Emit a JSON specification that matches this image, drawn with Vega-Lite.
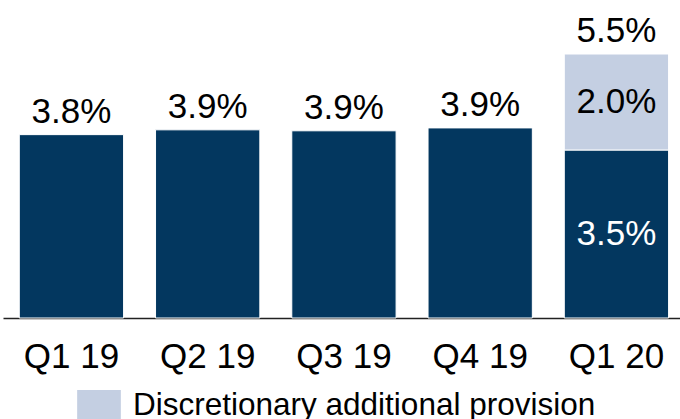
{
  "$schema": "https://vega.github.io/schema/vega-lite/v6.json",
  "autosize": {"type": "none"},
  "width": 677,
  "height": 318,
  "padding": {"left": 3, "top": 0, "right": 0, "bottom": 101},
  "background": "white",
  "config": {"view": {"stroke": null}, "font": "Liberation Sans"},
  "datasets": {
    "segments": [
      {"quarter": "Q1 19", "segment": "Base provision", "ord": 1, "value": 3.82, "label": ""},
      {"quarter": "Q2 19", "segment": "Base provision", "ord": 1, "value": 3.92, "label": ""},
      {"quarter": "Q3 19", "segment": "Base provision", "ord": 1, "value": 3.9, "label": ""},
      {"quarter": "Q4 19", "segment": "Base provision", "ord": 1, "value": 3.96, "label": ""},
      {"quarter": "Q1 20", "segment": "Base provision", "ord": 1, "value": 3.5, "label": "3.5%"},
      {"quarter": "Q1 20", "segment": "Discretionary additional provision", "ord": 2, "value": 2.0, "label": "2.0%"}
    ],
    "totals": [
      {"quarter": "Q1 19", "total": 3.82, "label": "3.8%"},
      {"quarter": "Q2 19", "total": 3.92, "label": "3.9%"},
      {"quarter": "Q3 19", "total": 3.9, "label": "3.9%"},
      {"quarter": "Q4 19", "total": 3.96, "label": "3.9%"},
      {"quarter": "Q1 20", "total": 5.5, "label": "5.5%"}
    ]
  },
  "encoding": {
    "x": {
      "field": "quarter",
      "type": "nominal",
      "sort": ["Q1 19", "Q2 19", "Q3 19", "Q4 19", "Q1 20"],
      "scale": {"paddingInner": 0.2345, "paddingOuter": 0.1017, "align": 0.588},
      "axis": {
        "title": null,
        "labelAngle": 0,
        "labelFontSize": 35,
        "labelColor": "black",
        "labelPadding": 21,
        "ticks": false,
        "tickSize": 0,
        "domainColor": "#222222",
        "domainWidth": 1.5,
        "grid": false
      }
    }
  },
  "layer": [
    {
      "data": {"name": "segments"},
      "mark": {"type": "bar", "stroke": "white", "strokeWidth": 1},
      "encoding": {
        "y": {
          "field": "value",
          "type": "quantitative",
          "stack": "zero",
          "scale": {"domain": [0, 6.625], "nice": false, "zero": true},
          "axis": null
        },
        "order": {"field": "ord", "type": "quantitative"},
        "color": {
          "field": "segment",
          "type": "nominal",
          "scale": {
            "domain": ["Base provision", "Discretionary additional provision"],
            "range": ["#03375f", "#c4cfe2"]
          },
          "legend": {
            "values": ["Discretionary additional provision"],
            "title": null,
            "orient": "none",
            "legendX": 74,
            "legendY": 393,
            "symbolType": "M-1,-1.144H1V0.856H-1Z",
            "symbolSize": 1909,
            "symbolStrokeWidth": 0,
            "labelFontSize": 31.5,
            "labelBaseline": "alphabetic",
            "labelColor": "black",
            "labelLimit": 700,
            "labelOffset": 12,
            "padding": 0
          }
        }
      }
    },
    {
      "data": {"name": "segments"},
      "transform": [
        {"stack": "value", "groupby": ["quarter"], "sort": [{"field": "ord"}], "as": ["v0", "v1"]},
        {"calculate": "(datum.v0 + datum.v1) / 2", "as": "mid"}
      ],
      "mark": {"type": "text", "fontSize": 35, "baseline": "middle", "align": "center"},
      "encoding": {
        "y": {"field": "mid", "type": "quantitative"},
        "text": {"field": "label"},
        "color": {
          "condition": {"test": "datum.segment === 'Base provision'", "value": "white"},
          "value": "black"
        }
      }
    },
    {
      "data": {"name": "totals"},
      "mark": {"type": "text", "fontSize": 35, "baseline": "alphabetic", "align": "center", "dy": -12, "color": "black"},
      "encoding": {
        "y": {"field": "total", "type": "quantitative"},
        "text": {"field": "label"}
      }
    }
  ]
}
